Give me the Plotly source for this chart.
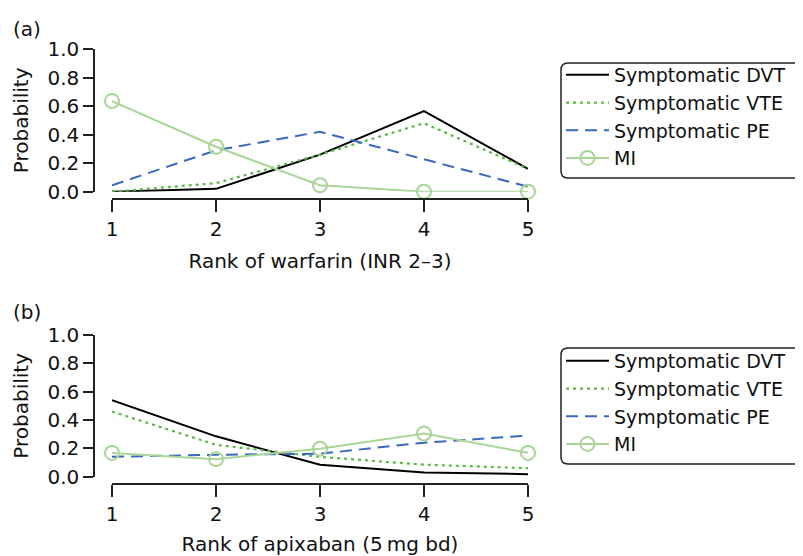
import plotly.graph_objects as go

ranks = [1, 2, 3, 4, 5]
series_names = ["Symptomatic DVT", "Symptomatic VTE", "Symptomatic PE", "MI"]

# Panel (a): warfarin (INR 2-3)
a_dvt = [0.00, 0.02, 0.26, 0.565, 0.16]
a_vte = [0.00, 0.06, 0.26, 0.48, 0.16]
a_pe = [0.045, 0.29, 0.42, 0.225, 0.035]
a_mi = [0.635, 0.315, 0.045, 0.00, 0.00]

# Panel (b): apixaban (5 mg bd)
b_dvt = [0.54, 0.285, 0.085, 0.03, 0.018]
b_vte = [0.46, 0.225, 0.14, 0.085, 0.06]
b_pe = [0.14, 0.155, 0.162, 0.24, 0.29]
b_mi = [0.168, 0.124, 0.198, 0.304, 0.168]

xtitle_a = "Rank of warfarin (INR 2–3)"
xtitle_b = "Rank of apixaban (5\u2009mg bd)"
ytitle = "Probability"
ytick_vals = [0, 0.2, 0.4, 0.6, 0.8, 1.0]
ytick_text = ["0.0", "0.2", "0.4", "0.6", "0.8", "1.0"]

FONT = "DejaVu Sans"
FS = 20
LFS = 19
# the page body adds an 8px margin, so the figure is drawn 8px smaller
OFF = 8
W, H = 803 - OFF, 556 - OFF

def px(x):
    return (x - OFF) / W

def py(y):
    return 1 - (y - OFF) / H

styles = [
    dict(color="#000000", width=2, dash="solid", mode="lines"),
    dict(color="#5cb848", width=2.2, dash="3px,4px", mode="lines"),
    dict(color="#3a68bf", width=2, dash="12px,7px", mode="lines"),
    dict(color="#a9d697", width=2, dash="solid", mode="lines+markers"),
]

fig = go.Figure()

def add_panel(vals, xa, ya, legend):
    for name, v, st in zip(series_names, vals, styles):
        kw = {}
        if "markers" in st["mode"]:
            kw["marker"] = dict(symbol="circle-open", size=14, color=st["color"],
                                line=dict(width=2, color=st["color"]))
        fig.add_trace(go.Scatter(
            x=ranks, y=v, name=name, mode=st["mode"], xaxis=xa, yaxis=ya,
            line=dict(color=st["color"], width=st["width"], dash=st["dash"]),
            cliponaxis=False, legend=legend, **kw))

add_panel([a_dvt, a_vte, a_pe, a_mi], "x", "y", "legend")
add_panel([b_dvt, b_vte, b_pe, b_mi], "x2", "y2", "legend2")

xd = [px(112), px(528)]

def xaxis(pos, title):
    return dict(domain=xd, range=[1, 5], anchor="free", position=pos,
                showline=True, linecolor="#222", linewidth=1.5,
                ticks="outside", ticklen=12, tickwidth=1.5, tickcolor="#222",
                tickvals=ranks, showgrid=False, zeroline=False,
                tickfont=dict(size=FS, color="#111"),
                title=dict(text=title, font=dict(size=FS, color="#111"), standoff=13),
                automargin=False)

def yaxis(dom):
    return dict(domain=dom, range=[0, 1], anchor="free", position=px(94),
                showline=True, linecolor="#222", linewidth=1.5,
                ticks="outside", ticklen=10, tickwidth=1.5, tickcolor="#222",
                tickvals=ytick_vals, ticktext=ytick_text, showgrid=False, zeroline=False,
                tickfont=dict(size=FS, color="#111"),
                title=dict(text=ytitle, font=dict(size=FS, color="#111"), standoff=12),
                automargin=False)

legend_style = dict(xanchor="left", yanchor="top", borderwidth=0,
                    bgcolor="rgba(0,0,0,0)", font=dict(size=LFS, color="#111"),
                    tracegroupgap=0, itemwidth=43)

def rounded_box(x0, y0, x1, y1, r=7):
    # pixel box -> paper-coordinate path with rounded corners
    rx, ry = r / W, r / H
    X0, X1 = px(x0), px(x1)
    Yt, Yb = py(y0), py(y1)
    return (f"M {X0+rx},{Yt} L {X1-rx},{Yt} Q {X1},{Yt} {X1},{Yt-ry} "
            f"L {X1},{Yb+ry} Q {X1},{Yb} {X1-rx},{Yb} L {X0+rx},{Yb} "
            f"Q {X0},{Yb} {X0},{Yb+ry} L {X0},{Yt-ry} Q {X0},{Yt} {X0+rx},{Yt} Z")

box_style = dict(type="path", xref="paper", yref="paper",
                 line=dict(color="#222", width=1.5), fillcolor="rgba(0,0,0,0)", layer="below")

fig.update_layout(
    width=W, height=H,
    margin=dict(l=0, r=0, t=0, b=0, autoexpand=False),
    paper_bgcolor="white", plot_bgcolor="white",
    font=dict(family=FONT, size=FS, color="#111"),
    xaxis=xaxis(py(199.3), xtitle_a),
    yaxis=yaxis([py(191.7), py(49)]),
    xaxis2=xaxis(py(484.3), xtitle_b),
    yaxis2=yaxis([py(476.7), py(335)]),
    legend=dict(x=px(561), y=py(56), **legend_style),
    legend2=dict(x=px(561), y=py(342), **legend_style),
    showlegend=True,
    shapes=[
        dict(path=rounded_box(561, 63, 815, 178), **box_style),
        dict(path=rounded_box(561, 348, 815, 464), **box_style),
    ],
    annotations=[
        dict(text="(a)", x=px(11), y=py(29), xref="paper", yref="paper",
             xanchor="left", yanchor="middle", showarrow=False, font=dict(size=FS)),
        dict(text="(b)", x=px(11), y=py(312), xref="paper", yref="paper",
             xanchor="left", yanchor="middle", showarrow=False, font=dict(size=FS)),
    ],
)

fig.write_html("out.html")
